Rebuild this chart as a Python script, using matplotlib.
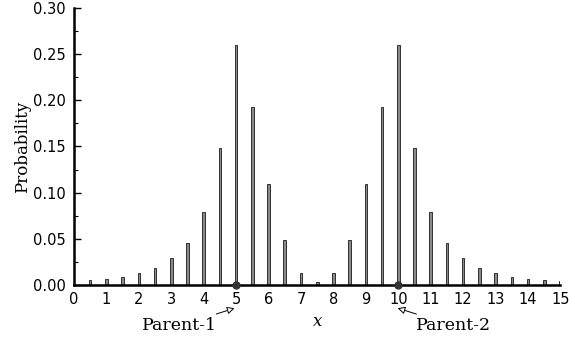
import matplotlib
matplotlib.use("Agg")
import matplotlib.pyplot as plt
from matplotlib.ticker import MultipleLocator

x_vals = [0.5, 1, 1.5, 2, 2.5, 3, 3.5, 4, 4.5, 5, 5.5, 6, 6.5, 7, 7.5,
          8, 8.5, 9, 9.5, 10, 10.5, 11, 11.5, 12, 12.5, 13, 13.5, 14, 14.5, 15]
probs = [0.005, 0.007, 0.009, 0.013, 0.019, 0.029, 0.046, 0.079, 0.148, 0.260,
         0.193, 0.109, 0.049, 0.013, 0.003,
         0.013, 0.049, 0.109, 0.193, 0.260, 0.148, 0.079, 0.046, 0.029, 0.019,
         0.013, 0.009, 0.007, 0.005, 0.004]
parents_x = [5, 10]
parent_labels = ["Parent-1", "Parent-2"]
xticks = list(range(0, 16))
yticks = [0.00, 0.05, 0.10, 0.15, 0.20, 0.25, 0.30]

plt.rcParams['font.family'] = ['DejaVu Sans']
fig = plt.figure(figsize=(5.69, 3.41), dpi=100)
ax = fig.add_axes([0.130, 0.164, 0.855, 0.813])

ax.bar(x_vals, probs, width=0.08, color='#8a8a8a', edgecolor='#1a1a1a', linewidth=0.6, zorder=2)
ax.plot(parents_x, [0, 0], 'o', color='#333333', markersize=5, zorder=4, clip_on=False)

ax.set_xlim(0, 15)
ax.set_ylim(0, 0.30)
ax.set_xticks(xticks)
ax.set_xticklabels([str(t) for t in xticks])
ax.set_yticks(yticks)
ax.set_yticklabels([f"{t:.2f}" for t in yticks])
ax.yaxis.set_minor_locator(MultipleLocator(0.025))
ax.tick_params(axis='y', which='major', direction='in', length=5, width=1, labelsize=10.5, pad=6)
ax.tick_params(axis='y', which='minor', direction='in', length=3, width=0.8)
ax.tick_params(axis='x', which='major', length=0, labelsize=10.5, pad=5)

for s in ['top', 'right']:
    ax.spines[s].set_visible(False)
for s in ['left', 'bottom']:
    ax.spines[s].set_linewidth(1.8)
    ax.spines[s].set_zorder(3)

ax.set_ylabel("Probability", fontsize=12, family='DejaVu Serif', labelpad=1)
ax.set_xlabel("x", fontsize=12, style='italic', family='DejaVu Serif', labelpad=4)

arrow = dict(arrowstyle='-|>', fc='white', ec='black', lw=0.7, mutation_scale=11, shrinkA=1, shrinkB=0)
ax.annotate(parent_labels[0], xy=(4.95, -0.025), xytext=(4.42, -0.044),
            xycoords='data', textcoords='data', ha='right', va='center',
            fontsize=12.5, family='DejaVu Serif', arrowprops=arrow, annotation_clip=False)
ax.annotate(parent_labels[1], xy=(9.98, -0.025), xytext=(10.55, -0.044),
            xycoords='data', textcoords='data', ha='left', va='center',
            fontsize=12.5, family='DejaVu Serif', arrowprops=arrow, annotation_clip=False)

fig.savefig("out.png", dpi=100)
